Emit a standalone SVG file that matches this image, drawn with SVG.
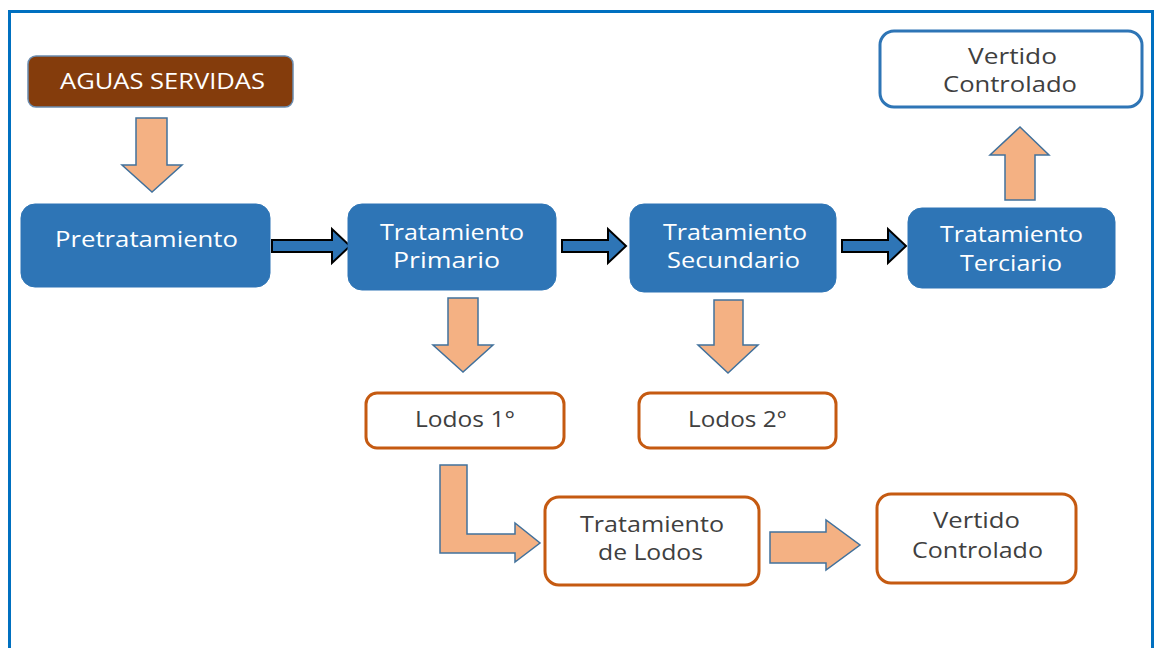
<svg xmlns="http://www.w3.org/2000/svg" width="1161" height="648" viewBox="0 0 1161 648">
<style>
.t{font-family:"Open Sans","Liberation Sans",sans-serif;font-size:21px}
.w{fill:#ffffff}
.d{fill:#404040}
.blue{fill:#2E75B6;stroke:#2E75B6;stroke-width:1}
.onode{fill:#ffffff;stroke:#C55A11;stroke-width:3}
.bnode{fill:#ffffff;stroke:#2E75B6;stroke-width:3}
.pa{fill:#F4B183;stroke:#41719C;stroke-width:1.5;stroke-linejoin:miter}
.ba{fill:#2E75B6;stroke:#000000;stroke-width:2}
</style>
<rect x="0" y="0" width="1161" height="648" fill="#ffffff"/>
<rect x="9.5" y="11.5" width="1143" height="660" fill="none" stroke="#0070C0" stroke-width="3"/>

<g id="connectors">
<polygon class="pa" points="136,118 167,118 167,165 182,165 152,192 122,165 136,165"/>
<polygon class="ba" points="272,240 332,240 332,229 350,246 332,263 332,252 272,252"/>
<polygon class="ba" points="562,240 608,240 608,229 626,246 608,263 608,252 562,252"/>
<polygon class="ba" points="842,240 888,240 888,229 906,246 888,263 888,252 842,252"/>
<polygon class="pa" points="1005,200 1035,200 1035,155 1049,155 1020,127 990,155 1005,155"/>
<polygon class="pa" points="448,298 478,298 478,345 493,345 463,372 433,345 448,345"/>
<polygon class="pa" points="714,300 743,300 743,345 758,345 728,373 698,345 714,345"/>
<polygon class="pa" points="440,465 467,465 467,534 515,534 515,523 540,543 515,562 515,553 440,553"/>
<polygon class="pa" points="770,532 826,532 826,520 860,545 826,570 826,563 770,563"/>
</g>

<g id="aguas">
<rect x="28" y="56" width="265" height="51" rx="8" fill="#843C0C" stroke="#6A8CB0" stroke-width="1.5"/>
<text class="t w" x="60" y="89" textLength="205" lengthAdjust="spacingAndGlyphs">AGUAS SERVIDAS</text>
</g>
<g id="pretratamiento">
<rect class="blue" x="21" y="204" width="249" height="83" rx="14"/>
<text class="t w" x="55" y="247" textLength="183" lengthAdjust="spacingAndGlyphs">Pretratamiento</text>
</g>
<g id="primario">
<rect class="blue" x="348" y="204" width="208" height="86" rx="14"/>
<text class="t w" x="380" y="240" textLength="144" lengthAdjust="spacingAndGlyphs">Tratamiento</text>
<text class="t w" x="393" y="268" textLength="107" lengthAdjust="spacingAndGlyphs">Primario</text>
</g>
<g id="secundario">
<rect class="blue" x="630" y="204" width="206" height="88" rx="14"/>
<text class="t w" x="663" y="240" textLength="144" lengthAdjust="spacingAndGlyphs">Tratamiento</text>
<text class="t w" x="667" y="268" textLength="133" lengthAdjust="spacingAndGlyphs">Secundario</text>
</g>
<g id="terciario">
<rect class="blue" x="908" y="208" width="207" height="80" rx="14"/>
<text class="t w" x="940" y="242" textLength="143" lengthAdjust="spacingAndGlyphs">Tratamiento</text>
<text class="t w" x="960" y="271" textLength="102" lengthAdjust="spacingAndGlyphs">Terciario</text>
</g>
<g id="vertido1">
<rect class="bnode" x="880" y="31" width="262" height="76" rx="14"/>
<text class="t d" x="968" y="64" textLength="89" lengthAdjust="spacingAndGlyphs">Vertido</text>
<text class="t d" x="943" y="92" textLength="134" lengthAdjust="spacingAndGlyphs">Controlado</text>
</g>
<g id="lodos1">
<rect class="onode" x="366" y="393" width="198" height="55" rx="11"/>
<text class="t d" x="415" y="427" textLength="100" lengthAdjust="spacingAndGlyphs">Lodos 1°</text>
</g>
<g id="lodos2">
<rect class="onode" x="639" y="393" width="197" height="55" rx="11"/>
<text class="t d" x="688" y="427" textLength="99" lengthAdjust="spacingAndGlyphs">Lodos 2°</text>
</g>
<g id="tratlodos">
<rect class="onode" x="545" y="497" width="214" height="88" rx="14"/>
<text class="t d" x="580" y="532" textLength="144" lengthAdjust="spacingAndGlyphs">Tratamiento</text>
<text class="t d" x="598" y="560" textLength="105" lengthAdjust="spacingAndGlyphs">de Lodos</text>
</g>
<g id="vertido2">
<rect class="onode" x="877" y="494" width="199" height="89" rx="14"/>
<text class="t d" x="933" y="528" textLength="87" lengthAdjust="spacingAndGlyphs">Vertido</text>
<text class="t d" x="912" y="558" textLength="131" lengthAdjust="spacingAndGlyphs">Controlado</text>
</g>
</svg>
